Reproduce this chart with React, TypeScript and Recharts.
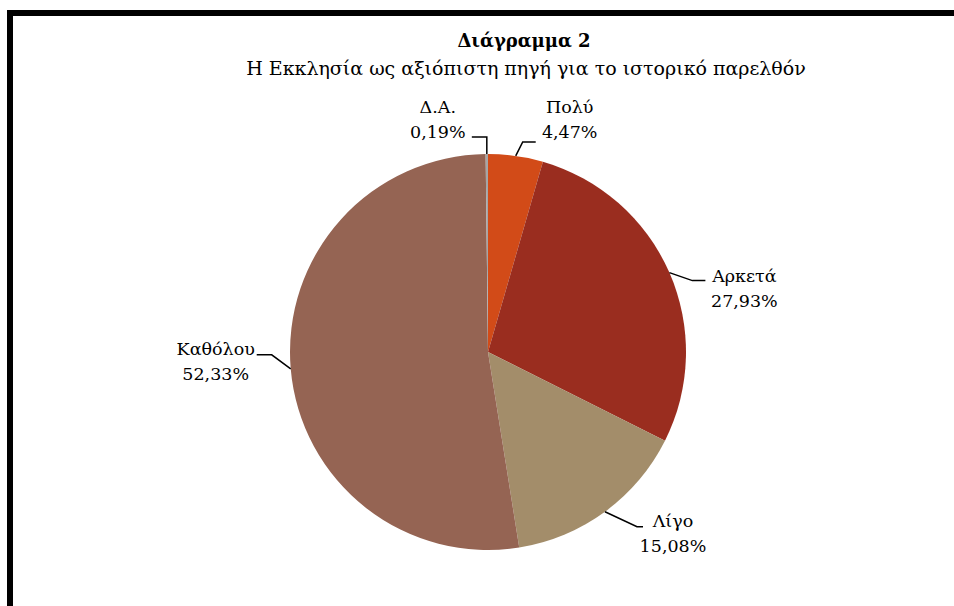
import { Cell, Pie, PieChart } from "recharts";

// Διάγραμμα 2 — απαντήσεις (%)
const categories = ["Πολύ", "Αρκετά", "Λίγο", "Καθόλου", "Δ.Α."];
const percentages = [4.47, 27.93, 15.08, 52.33, 0.19];
const percentLabels = ["4,47%", "27,93%", "15,08%", "52,33%", "0,19%"];

const sliceColors = ["#D24B18", "#9A2D1F", "#A38D6A", "#956453", "#A6A6A6"];

// leader line / text placement per slice (Excel "best fit" look)
const labelLayout = [
  { elbow: [7, -14], run: 13, text: [34, -29] },
  { elbow: [23, 8], run: 13, text: [39, 1] },
  { elbow: [32, 15], run: 6, text: [30, 0] },
  { elbow: [-19, -14], run: -15, text: [-41, 0] },
  { elbow: [0, -17], run: -15, text: [-34, -24] },
];

const FONT = "'DejaVu Serif', serif";
const RAD = Math.PI / 180;

const data = categories.map((name, i) => ({
  name,
  value: percentages[i],
  label: percentLabels[i],
}));

function LeaderLabel(props: any) {
  const { cx, cy, midAngle, outerRadius, index } = props;
  const lay = labelLayout[index];
  const sx = cx + outerRadius * Math.cos(-midAngle * RAD);
  const sy = cy + outerRadius * Math.sin(-midAngle * RAD);
  const ex = sx + lay.elbow[0];
  const ey = sy + lay.elbow[1];
  const fx = ex + lay.run;
  const tx = fx + lay.text[0];
  const ty = ey + lay.text[1];
  return (
    <g>
      <path
        d={`M${sx},${sy}L${ex},${ey}L${fx},${ey}`}
        stroke="#000"
        strokeWidth={1.5}
        fill="none"
      />
      <text
        x={tx}
        y={ty}
        textAnchor="middle"
        style={{ fontFamily: FONT, fontSize: 17.5 }}
        fill="#000"
      >
        <tspan x={tx}>{data[index].name}</tspan>
        <tspan x={tx} dy={25}>
          {data[index].label}
        </tspan>
      </text>
    </g>
  );
}

export default function App() {
  return (
    <div
      style={{
        position: "absolute",
        left: 0,
        top: 0,
        width: 954,
        height: 606,
        overflow: "hidden",
        background: "#fff",
        fontFamily: FONT,
      }}
    >
      <div
        style={{
          position: "absolute",
          left: 7,
          top: 10,
          width: 1100,
          height: 800,
          border: "6px solid #000",
          boxSizing: "border-box",
        }}
      />
      <svg
        width={954}
        height={110}
        style={{ position: "absolute", left: 0, top: 0 }}
      >
        <text
          x={524}
          y={47}
          textAnchor="middle"
          style={{ fontFamily: FONT, fontSize: 18, fontWeight: "bold" }}
          fill="#000"
        >
          Διάγραμμα 2
        </text>
        <text
          x={526}
          y={75}
          textAnchor="middle"
          style={{ fontFamily: FONT, fontSize: 19 }}
          fill="#000"
        >
          Η Εκκλησία ως αξιόπιστη πηγή για το ιστορικό παρελθόν
        </text>
      </svg>
      <div style={{ position: "absolute", left: 0, top: 0 }}>
        <PieChart
          width={954}
          height={606}
          margin={{ top: 0, right: 0, bottom: 0, left: 0 }}
        >
          <Pie
            data={data}
            dataKey="value"
            nameKey="name"
            cx={488}
            cy={352}
            outerRadius={198}
            startAngle={90}
            endAngle={-270}
            stroke="none"
            label={LeaderLabel}
            labelLine={false}
            isAnimationActive={false}
          >
            {data.map((d, i) => (
              <Cell key={d.name} fill={sliceColors[i]} />
            ))}
          </Pie>
        </PieChart>
      </div>
    </div>
  );
}
